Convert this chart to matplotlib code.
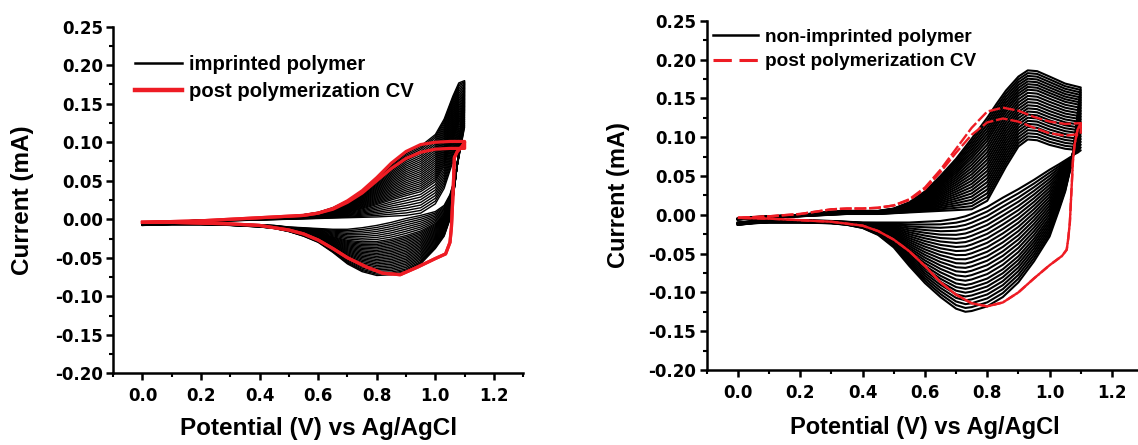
import matplotlib
matplotlib.use("Agg")
import matplotlib.pyplot as plt
from matplotlib.lines import Line2D
import numpy as np

# ---------------- data: left panel (imprinted polymer) ----------------
imp_fwd_E = [0.0, 0.1, 0.2, 0.3, 0.4, 0.5, 0.55, 0.6, 0.65, 0.7, 0.75, 0.8,
             0.85, 0.9, 0.95, 1.0, 1.03, 1.06, 1.08, 1.1]
imp_first_fwd = [-0.006, -0.004, -0.003, -0.002, -0.001, 0.0, 0.0005, 0.001, 0.0015, 0.002,
                 0.0025, 0.003, 0.004, 0.005, 0.008, 0.02, 0.04, 0.075, 0.1, 0.12]
imp_last_fwd = [-0.005, -0.003, -0.001, 0.0, 0.002, 0.004, 0.006, 0.009, 0.015, 0.024,
                0.037, 0.053, 0.07, 0.085, 0.095, 0.11, 0.13, 0.16, 0.177, 0.18]
imp_rev_E = [1.1, 1.09, 1.08, 1.07, 1.06, 1.05, 1.03, 1.0, 0.95, 0.9, 0.85, 0.8, 0.75,
             0.7, 0.65, 0.6, 0.55, 0.5, 0.45, 0.4, 0.3, 0.2, 0.1, 0.0]
imp_first_rev = [0.12, 0.10, 0.08, 0.06, 0.045, 0.032, 0.018, 0.01, 0.005, 0.001, -0.004,
                 -0.008, -0.011, -0.013, -0.013, -0.012, -0.011, -0.01, -0.008, -0.007,
                 -0.006, -0.005, -0.005, -0.006]
imp_last_rev = [0.18, 0.13, 0.09, 0.055, 0.025, 0.0, -0.022, -0.038, -0.058, -0.068, -0.072,
                -0.073, -0.068, -0.058, -0.043, -0.03, -0.022, -0.016, -0.012, -0.01,
                -0.008, -0.007, -0.007, -0.008]
imp_cycle_growth = [0.0, 0.04, 0.08, 0.12, 0.16, 0.2, 0.24, 0.28, 0.32, 0.35, 0.38, 0.41,
                    0.44, 0.47, 0.5, 0.53, 0.56, 0.59, 0.62, 0.65, 0.68, 0.71, 0.74, 0.77,
                    0.8, 0.83, 0.86, 0.89, 0.92, 0.95, 0.975, 1.0]

imp_post_fwd_E = [0.0, 0.1, 0.2, 0.3, 0.4, 0.5, 0.55, 0.6, 0.65, 0.7, 0.75, 0.8, 0.85,
                  0.9, 0.95, 1.0, 1.05, 1.1]
imp_post_fwd1 = [-0.004, -0.003, -0.002, 0.0, 0.002, 0.004, 0.005, 0.008, 0.014, 0.024,
                 0.037, 0.054, 0.073, 0.088, 0.097, 0.1, 0.101, 0.101]
imp_post_fwd2 = [-0.004, -0.003, -0.002, 0.0, 0.002, 0.004, 0.005, 0.008, 0.013, 0.022,
                 0.034, 0.05, 0.066, 0.079, 0.087, 0.091, 0.092, 0.092]
imp_post_rev_E = [1.1, 1.09, 1.075, 1.065, 1.06, 1.055, 1.05, 1.035, 1.0, 0.94, 0.88,
                  0.82, 0.765, 0.7, 0.65, 0.6, 0.55, 0.5, 0.45, 0.4, 0.3, 0.2, 0.1, 0.0]
imp_post_rev = [0.1, 0.094, 0.088, 0.08, 0.03, -0.01, -0.03, -0.045, -0.051, -0.062,
                -0.072, -0.07, -0.062, -0.05, -0.038, -0.027, -0.019, -0.014, -0.011,
                -0.008, -0.006, -0.005, -0.004, -0.004]

# ---------------- data: right panel (non-imprinted polymer) ----------------
nip_fwd_E = [0.0, 0.05, 0.1, 0.2, 0.3, 0.35, 0.4, 0.45, 0.5, 0.55, 0.6, 0.65, 0.7, 0.75,
             0.8, 0.83, 0.86, 0.9, 0.93, 0.96, 1.0, 1.05, 1.1]
nip_first_fwd = [-0.006, -0.005, -0.004, -0.002, 0.0, 0.001, 0.001, 0.001, 0.002, 0.003,
                 0.004, 0.005, 0.006, 0.007, 0.018, 0.04, 0.062, 0.088, 0.097, 0.096,
                 0.09, 0.085, 0.083]
nip_last_fwd = [-0.005, -0.003, -0.002, 0.0, 0.004, 0.005, 0.005, 0.005, 0.008, 0.016,
                0.03, 0.05, 0.072, 0.098, 0.125, 0.143, 0.16, 0.178, 0.186, 0.185, 0.178,
                0.169, 0.164]
nip_rev_E = [1.1, 1.09, 1.08, 1.07, 1.05, 1.03, 1.0, 0.95, 0.9, 0.85, 0.8, 0.75, 0.73,
             0.7, 0.65, 0.6, 0.55, 0.5, 0.45, 0.4, 0.35, 0.3, 0.2, 0.1, 0.05, 0.0]
nip_first_rev = [0.083, 0.08, 0.078, 0.075, 0.07, 0.065, 0.058, 0.045, 0.033, 0.022, 0.01,
                 0.001, -0.002, -0.005, -0.008, -0.009, -0.01, -0.01, -0.01, -0.01,
                 -0.009, -0.008, -0.007, -0.007, -0.008, -0.01]
nip_last_rev = [0.164, 0.13, 0.095, 0.065, 0.03, 0.006, -0.028, -0.06, -0.087, -0.106,
                -0.118, -0.124, -0.125, -0.121, -0.106, -0.088, -0.066, -0.042, -0.026,
                -0.017, -0.013, -0.011, -0.01, -0.01, -0.011, -0.013]
nip_cycle_growth = [0.0, 0.045, 0.09, 0.135, 0.18, 0.225, 0.27, 0.315, 0.36, 0.405, 0.45,
                    0.495, 0.54, 0.585, 0.63, 0.675, 0.72, 0.76, 0.8, 0.84, 0.88, 0.92,
                    0.96, 1.0]

nip_post_fwd_E = [0.0, 0.05, 0.1, 0.2, 0.25, 0.3, 0.35, 0.4, 0.45, 0.5, 0.55, 0.6, 0.65,
                  0.7, 0.75, 0.8, 0.85, 0.9, 0.95, 1.0, 1.05, 1.1]
nip_post_fwd1 = [-0.004, -0.003, -0.002, 0.001, 0.004, 0.007, 0.008, 0.008, 0.009, 0.012,
                 0.02, 0.035, 0.058, 0.085, 0.112, 0.133, 0.138, 0.134, 0.126, 0.12,
                 0.117, 0.118]
nip_post_fwd2 = [-0.004, -0.003, -0.002, 0.001, 0.004, 0.007, 0.008, 0.008, 0.009, 0.012,
                 0.019, 0.033, 0.055, 0.08, 0.103, 0.119, 0.124, 0.12, 0.112, 0.105,
                 0.102, 0.104]
nip_post_rev_E = [1.1, 1.09, 1.08, 1.075, 1.07, 1.065, 1.06, 1.055, 1.04, 1.0, 0.95, 0.9,
                  0.85, 0.8, 0.75, 0.7, 0.65, 0.6, 0.55, 0.5, 0.45, 0.4, 0.3, 0.2, 0.1, 0.0]
nip_post_rev = [0.118, 0.11, 0.09, 0.07, 0.03, -0.01, -0.03, -0.045, -0.053, -0.065,
                -0.082, -0.1, -0.113, -0.118, -0.114, -0.103, -0.087, -0.066, -0.047,
                -0.032, -0.021, -0.014, -0.009, -0.007, -0.005, -0.004]

x_ticks = [0.0, 0.2, 0.4, 0.6, 0.8, 1.0, 1.2]
x_tick_labels = ["0.0", "0.2", "0.4", "0.6", "0.8", "1.0", "1.2"]
y_ticks = [-0.20, -0.15, -0.10, -0.05, 0.00, 0.05, 0.10, 0.15, 0.20, 0.25]
y_tick_labels = ["-0.20", "-0.15", "-0.10", "-0.05", "0.00", "0.05", "0.10", "0.15",
                 "0.20", "0.25"]
x_label = "Potential (V) vs Ag/AgCl"
y_label = "Current (mA)"

RED = "#ee1c24"

# ---------------- figure ----------------
fig = plt.figure(figsize=(11.38, 4.45), dpi=100)
axL = fig.add_axes([113.2 / 1138, (445 - 373.3) / 445, 410 / 1138, 346.6 / 445])
axR = fig.add_axes([706.7 / 1138, (445 - 370) / 445, 436.4 / 1138, 349.3 / 445])


def style(ax, ylab_x, xlab_y, lab_size):
    lab = dict(family="Liberation Sans", weight="bold", size=lab_size)
    ax.set_xlim(-0.1, 1.3)
    ax.set_ylim(-0.2, 0.25)
    for s in ["top", "right"]:
        ax.spines[s].set_visible(False)
    for s in ["left", "bottom"]:
        ax.spines[s].set_linewidth(1.8)
    ax.set_xticks(x_ticks)
    ax.set_xticklabels(x_tick_labels)
    ax.set_yticks(y_ticks)
    ax.set_yticklabels(y_tick_labels)
    ax.set_xticks([-0.1, 0.1, 0.3, 0.5, 0.7, 0.9, 1.1, 1.3], minor=True)
    ax.set_yticks([-0.175, -0.125, -0.075, -0.025, 0.025, 0.075, 0.125, 0.175, 0.225],
                  minor=True)
    ax.tick_params(which="major", direction="out", length=5, width=1.8)
    ax.tick_params(which="minor", direction="out", length=3, width=1.5)
    ax.tick_params(axis="x", which="major", pad=5)
    ax.tick_params(axis="y", which="major", pad=2.5)
    for t in ax.get_xticklabels() + ax.get_yticklabels():
        t.set_fontfamily("DejaVu Sans")
        t.set_fontweight("bold")
        t.set_fontsize(12)
    ax.set_xlabel(x_label, va="center", ha="center", **lab)
    ax.set_ylabel(y_label, va="center", ha="center", **lab)
    ax.xaxis.set_label_coords(0.5, xlab_y)
    ax.yaxis.set_label_coords(ylab_x, 0.5)


def draw_cycles(ax, fE, f0, f1, rE, r0, r1, growth, lw):
    f0, f1, r0, r1 = map(np.asarray, (f0, f1, r0, r1))
    E = np.concatenate([fE, rE])
    for g in growth:
        I = np.concatenate([f0 + g * (f1 - f0), r0 + g * (r1 - r0)])
        ax.plot(E, I, color="black", lw=lw, solid_joinstyle="round")


# left panel
draw_cycles(axL, imp_fwd_E, imp_first_fwd, imp_last_fwd,
            imp_rev_E, imp_first_rev, imp_last_rev, imp_cycle_growth, 1.0)
for fwd in (imp_post_fwd2, imp_post_fwd1):
    axL.plot(list(imp_post_fwd_E) + list(imp_post_rev_E), list(fwd) + list(imp_post_rev),
             color=RED, lw=2.3, solid_joinstyle="round")
style(axL, -0.22, -0.158, 17.5)
axL.legend([Line2D([], [], color="black", lw=1.8), Line2D([], [], color=RED, lw=3.2)],
           ["imprinted polymer", "post polymerization CV"],
           loc="upper left", bbox_to_anchor=(0.054, 0.918), frameon=False,
           borderpad=0, borderaxespad=0, handlelength=2.3, handletextpad=0.36,
           labelspacing=0.4, prop=dict(family="Liberation Sans", weight="bold", size=14.6))

# right panel
draw_cycles(axR, nip_fwd_E, nip_first_fwd, nip_last_fwd,
            nip_rev_E, nip_first_rev, nip_last_rev, nip_cycle_growth, 1.5)
for fwd in (nip_post_fwd2, nip_post_fwd1):
    axR.plot(list(nip_post_fwd_E) + list(nip_post_rev_E), list(fwd) + list(nip_post_rev),
             color=RED, lw=1.7, linestyle=(0, (5, 1.2)))
style(axR, -0.203, -0.166, 17)
axR.legend([Line2D([], [], color="black", lw=1.8),
            Line2D([], [], color=RED, lw=2.2, linestyle=(0, (6, 2.5)))],
           ["non-imprinted polymer", "post polymerization CV"],
           loc="upper left", bbox_to_anchor=(0.0137, 0.9785), frameon=False,
           borderpad=0, borderaxespad=0, handlelength=2.4, handletextpad=0.35,
           labelspacing=0.4, prop=dict(family="Liberation Sans", weight="bold", size=13.7))

fig.savefig("out.png", dpi=100)
